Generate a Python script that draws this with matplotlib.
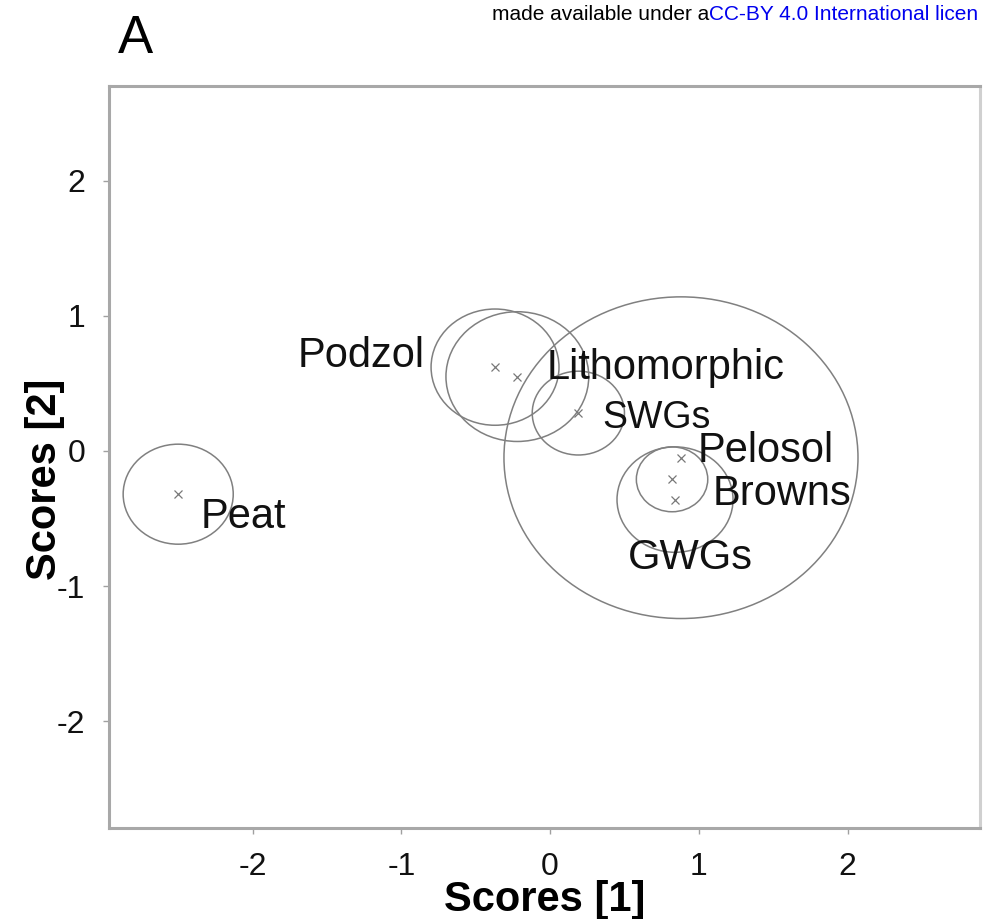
import matplotlib
matplotlib.use('Agg')
import matplotlib.pyplot as plt
from matplotlib.patches import Ellipse

plt.rcParams['font.family'] = ['Liberation Sans', 'DejaVu Sans']

# group centroids on the first two score axes, and circle radius
groups = ['Peat', 'Podzol', 'Lithomorphic', 'SWGs', 'Pelosol', 'Browns', 'GWGs']
score1 = [-2.50, -0.37, -0.22, 0.19, 0.88, 0.82, 0.84]
score2 = [-0.32, 0.62, 0.55, 0.28, -0.05, -0.21, -0.36]
radius = [0.37, 0.43, 0.48, 0.31, 1.19, 0.24, 0.39]

# where each label sits (left/baseline unless said otherwise)
label_x = [-2.35, -0.84, -0.02, 0.35, 0.99, 1.09, 0.52]
label_y = [-0.57, 0.62, 0.53, 0.17, -0.08, -0.40, -0.87]
label_ha = ['left', 'right', 'left', 'left', 'left', 'left', 'left']
label_size = [30, 30, 30, 27, 30, 30, 30]

ticks = [-2, -1, 0, 1, 2]

fig = plt.figure(figsize=(9.84, 9.19), dpi=100)
ax = fig.add_axes([0.1108, 0.0990, 0.8851, 0.8074])

for x, y, r in zip(score1, score2, radius):
    ax.add_patch(Ellipse((x, y), 2 * r, 2 * r, fill=False, edgecolor='#808080', linewidth=1.1))
ax.plot(score1, score2, 'x', color='#787878', markersize=5.5, markeredgewidth=0.9)

for name, lx, ly, ha, fs in zip(groups, label_x, label_y, label_ha, label_size):
    ax.text(lx, ly, name, ha=ha, va='baseline', fontsize=fs, color='#111111')

ax.set_xlim(-2.965, 2.89)
ax.set_ylim(-2.79, 2.70)
ax.set_xticks(ticks)
ax.set_yticks(ticks)
ax.set_xticklabels([str(t) for t in ticks])
ax.set_yticklabels([str(t) for t in ticks])
ax.tick_params(axis='both', direction='out', length=4, width=1, color='#a0a0a0',
               labelsize=23, labelcolor='#111111', pad=13)
for side in ['left', 'right', 'top', 'bottom']:
    ax.spines[side].set_color('#a8a8a8')
    ax.spines[side].set_linewidth(2.2)
ax.spines['right'].set_color('#d0d0d0')

ax.set_xlabel('Scores [1]', fontsize=30, fontweight='bold', labelpad=0)
ax.set_ylabel('Scores [2]', fontsize=30, fontweight='bold')
ax.xaxis.set_label_coords(0.5, -0.070)
ax.yaxis.set_label_coords(-0.051, 0.47)

fig.text(118 / 984, 1 - 53 / 919, 'A', fontsize=38, ha='left', va='baseline')

# header line, cut at the right edge in the source page
fig.text(709 / 984, 1 - 20 / 919, 'made available under a', fontsize=15,
         family=['Liberation Sans Narrow', 'Liberation Sans'], ha='right', va='baseline', color='black')
fig.text(709 / 984, 1 - 20 / 919, 'CC-BY 4.0 International licen', fontsize=15,
         family=['Liberation Sans Narrow', 'Liberation Sans'], ha='left', va='baseline', color='#0000ee')

fig.savefig('out.png', dpi=100)
